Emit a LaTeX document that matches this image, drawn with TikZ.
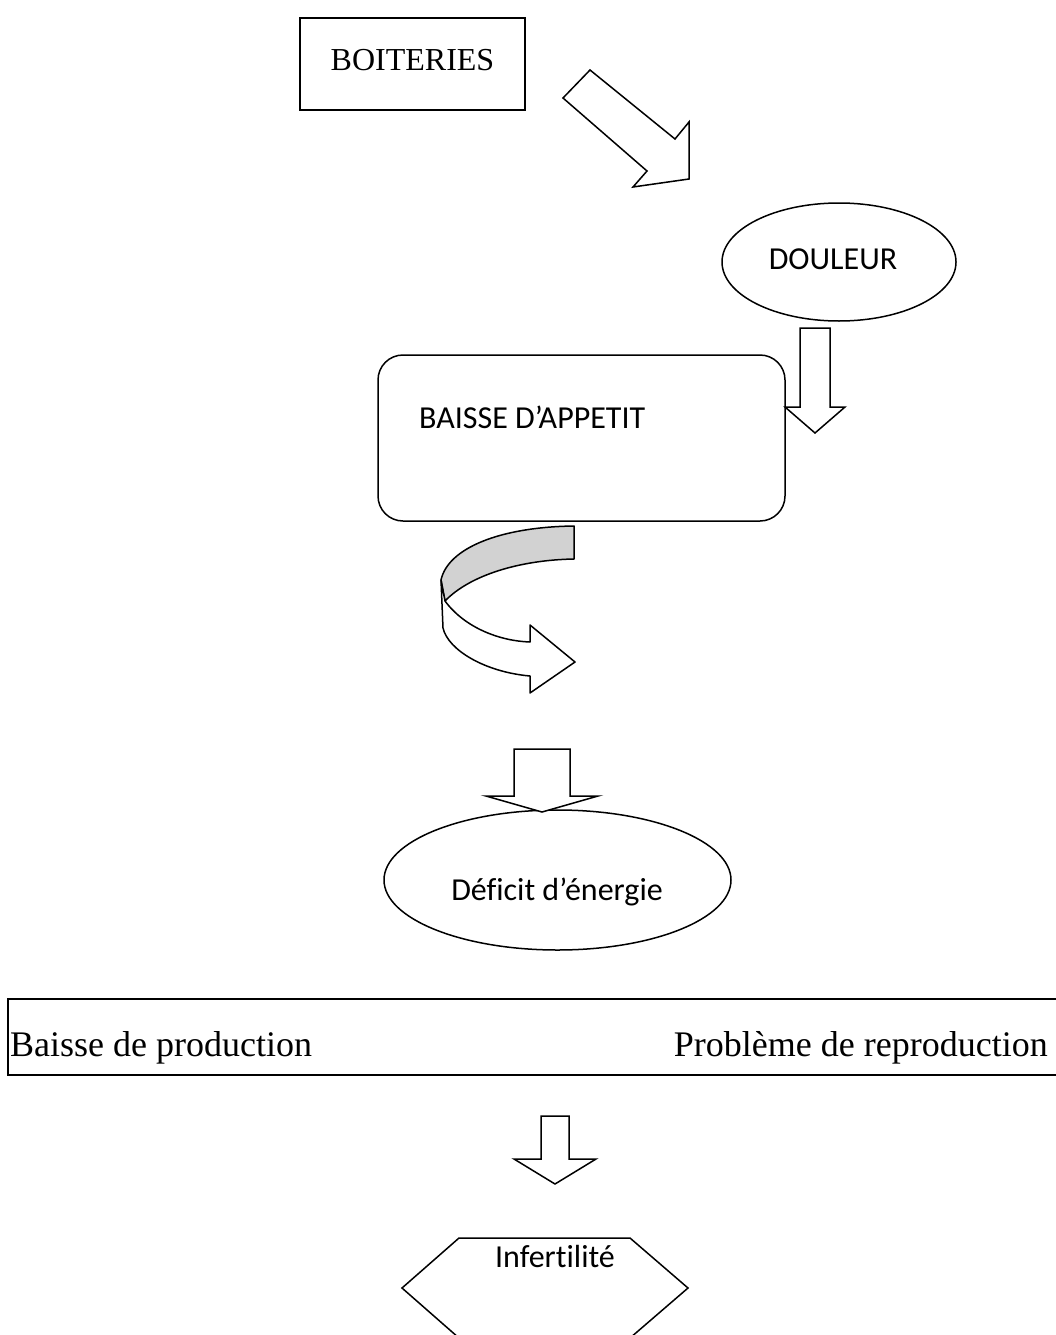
\documentclass[tikz,border=0pt]{standalone}
\usepackage{fontspec}
\setmainfont{Liberation Serif}
\newfontfamily\calibri[Ligatures=NoCommon]{Carlito}
\usetikzlibrary{shapes.geometric}

\tikzset{
  box/.style = {draw, line width=1.5pt, inner sep=0pt},
  oval/.style = {draw, ellipse, line width=1.5pt, inner sep=0pt},
  blockarrow/.style = {draw, line width=1.5pt, line join=miter, fill=white},
  sanstext/.style = {font=\calibri\fontsize{32}{38}\selectfont, inner sep=0pt},
  seriftext/.style = {font=\fontsize{32}{38}\selectfont, inner sep=0pt},
  bigtext/.style = {font=\fontsize{36}{42}\selectfont, inner sep=0pt}
}

\begin{document}
\begin{tikzpicture}[x = 1pt, y = -1pt]
    \useasboundingbox (0,0) rectangle (1056,1335);
    \clip (0,0) rectangle (1056,1335);
    \node[box, minimum width=225pt, minimum height=92pt] (BOIT) at (412.5,64) {};
    \node[oval, minimum width=234pt, minimum height=118pt] (DOUL) at (839,262) {};
    \node[box, rounded corners=25pt, minimum width=407pt, minimum height=166pt] (APPT) at (581.5,438) {};
    \node[oval, minimum width=347pt, minimum height=140pt] (DEFI) at (557.5,880) {};
    \node[box, minimum width=1062pt, minimum height=76pt] (PROD) at (539,1037) {};
    \coordinate (INFE) at (545,1288);
    \draw[line width=1.5pt] (INFE) ++(-86,-50) -- ++(171,0) -- ++(58,50) -- ++(-58,50) -- ++(-171,0) -- ++(-57,-50) -- cycle;
    \node[seriftext, anchor=base] (tBOIT) at (BOIT.center |- 0,71) {BOITERIES};
    \node[sanstext, anchor=base] (tDOUL) at (833,269) {DOULEUR};
    \node[sanstext, anchor=base west] (tAPPT) at (419,428) {BAISSE D’APPETIT};
    \node[sanstext, anchor=base] (tDEFI) at (557,900) {Déficit d’énergie};
    \node[bigtext, anchor=base west] (tBAIS) at (10,1056) {Baisse de production};
    \node[bigtext, anchor=base east] (tPROB) at (1048,1056) {Problème de reproduction};
    \node[sanstext, anchor=base] (tINFE) at (555,1267) {Infertilité};
    \draw[blockarrow] (563,98) -- (590,70) -- (675,139) -- (689,122) -- (689,179) -- (633,187) -- (647,171) -- cycle;
    \draw[blockarrow] (800,328) -- ++(30,0) -- ++(0,79) -- ++(15,0) -- ++(-30,26) -- ++(-30,-26) -- ++(15,0) -- cycle;
    \draw[blockarrow] (514,749) -- ++(56,0) -- ++(0,47) -- ++(28,0) -- ++(-56,16) -- ++(-56,-16) -- ++(28,0) -- cycle;
    \draw[blockarrow] (541,1116) -- ++(28,0) -- ++(0,43) -- ++(27,0) -- ++(-41,25) -- ++(-41,-25) -- ++(27,0) -- cycle;
    \draw[line width=1.5pt, line join=round, fill=gray!35] (574,526) .. controls (500,527) and (448,548) .. (441,580) -- (445,601) .. controls (470,575) and (520,560) .. (574,559) -- cycle;
    \draw[blockarrow, line join=round] (445,601) .. controls (465,628) and (500,641) .. (530,642) -- (530,625) -- (575,662) -- (530,693) -- (530,676) .. controls (485,672) and (448,650) .. (443,628) -- (441,580) -- cycle;
\end{tikzpicture}
\end{document}
